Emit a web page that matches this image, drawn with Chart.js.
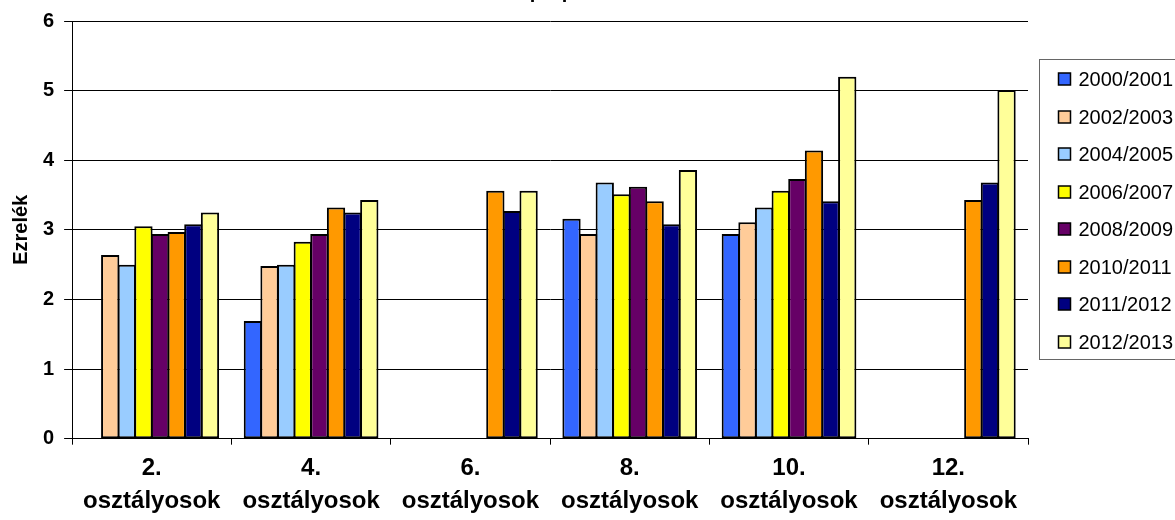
<!DOCTYPE html>
<html>
<head>
<meta charset="utf-8">
<script src="https://cdn.jsdelivr.net/npm/chart.js@4.4.0/dist/chart.umd.min.js"></script>
<style>
    html, body { margin: 0; padding: 0; background: #fff; overflow: hidden; }
    #wrap { position: absolute; left: 0; top: -40px; }
</style>
</head>
<body>
<div id="wrap"><canvas id="myChart" width="1175" height="565"></canvas></div>
<script>
// Adatok
var categories = [['2.', 'osztályosok'], ['4.', 'osztályosok'], ['6.', 'osztályosok'],
    ['8.', 'osztályosok'], ['10.', 'osztályosok'], ['12.', 'osztályosok']];
var years = ['2000/2001', '2002/2003', '2004/2005', '2006/2007',
    '2008/2009', '2010/2011', '2011/2012', '2012/2013'];
var colors = ['#3366FF', '#FFCC99', '#99CCFF', '#FFFF00',
    '#660066', '#FF9900', '#000080', '#FFFF99'];

var y2000 = [null, 1.69, null, 3.16, 2.94, null];
var y2002 = [2.64, 2.48, null, 2.94, 3.11, null];
var y2004 = [2.50, 2.50, null, 3.68, 3.32, null];
var y2006 = [3.05, 2.83, null, 3.51, 3.56, null];
var y2008 = [2.94, 2.94, null, 3.62, 3.73, null];
var y2010 = [2.97, 3.32, 3.56, 3.41, 4.14, 3.43];
var y2011 = [3.08, 3.25, 3.27, 3.08, 3.41, 3.68];
var y2012 = [3.25, 3.43, 3.56, 3.86, 5.20, 5.01];

var yTicks = [0, 1, 2, 3, 4, 5, 6];

var font = '"Liberation Sans", Arial, sans-serif';
var series = [y2000, y2002, y2004, y2006, y2008, y2010, y2011, y2012];

//Jelmagyarázat kerettel
var boxLegend = {
    id: 'boxLegend',
    afterDraw: function(chart) {
        var ctx = chart.ctx;
        var a = chart.chartArea;
        var left = Math.round(a.right + 11) + 0.5;
        var top = Math.round(a.top + 38) + 0.5;

        ctx.save();
        ctx.strokeStyle = '#666';
        ctx.lineWidth = 1;
        ctx.strokeRect(left, top, 160, 300);
        ctx.font = '20px ' + font;
        ctx.textBaseline = 'middle';
        chart.data.datasets.forEach(function(ds, i) {
            var y = Math.round(top + 19.5 + i * 37.5);
            ctx.fillStyle = ds.backgroundColor;
            ctx.fillRect(left + 19, y - 6, 12, 12);
            ctx.lineWidth = 1.5;
            ctx.strokeStyle = '#000';
            ctx.strokeRect(left + 19, y - 6, 12, 12);
            ctx.fillStyle = '#000';
            ctx.fillText(ds.label, left + 39, y + 1);
        });
        ctx.restore();
    }
};

var ctx = document.getElementById('myChart').getContext('2d');

new Chart(ctx, {
    type: 'bar',
    data: {
        labels: categories,
        datasets: years.map(function(y, i) {
            return {
                label: y,
                data: series[i],
                backgroundColor: colors[i],
                borderColor: '#000',
                borderWidth: 2,
                borderSkipped: false
            };
        })
    },
    options: {
        responsive: false,
        animation: false,
        layout: { padding: { left: 9, right: 147, top: 0, bottom: 0 } },
        datasets: { bar: { barPercentage: 1.1, categoryPercentage: 0.835 } },
        plugins: {
            legend: { display: false },
            tooltip: { enabled: false },
            title: {
                display: true,
                text: 'Évismétlési proporció',
                color: '#000',
                font: { family: font, size: 20, weight: 'bold' },
                padding: { top: 20, bottom: 17 }
            }
        },
        scales: {
            x: {
                grid: { display: true, drawOnChartArea: false, color: '#000', tickLength: 6 },
                border: { color: '#000' },
                ticks: {
                    color: '#000', padding: 8, maxRotation: 0,
                    font: { family: font, size: 24, weight: 'bold', lineHeight: 1.34 }
                }
            },
            y: {
                min: 0,
                max: 6,
                afterBuildTicks: function(scale) {
                    scale.ticks = yTicks.map(function(v) { return { value: v }; });
                },
                grid: { color: '#000', tickLength: 8 },
                border: { color: '#000' },
                ticks: {
                    color: '#000', padding: 10,
                    font: { family: font, size: 20, weight: 'bold' }
                },
                title: {
                    display: true,
                    text: 'Ezrelék',
                    color: '#000',
                    padding: { top: 0, bottom: 0 },
                    font: { family: font, size: 20, weight: 'bold' }
                }
            }
        }
    },
    plugins: [boxLegend]
});
</script>
</body>
</html>
